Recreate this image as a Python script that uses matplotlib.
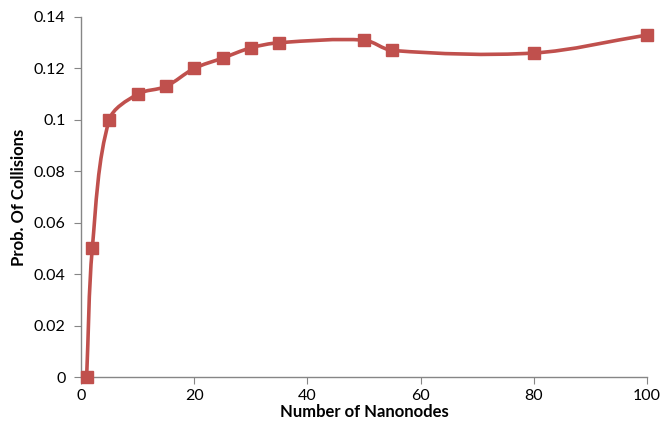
import numpy as np
import matplotlib
matplotlib.use("Agg")
import matplotlib.pyplot as plt
from matplotlib.path import Path
from matplotlib.patches import PathPatch
from matplotlib.transforms import IdentityTransform

nodes = [1, 2, 5, 10, 15, 20, 25, 30, 35, 50, 55, 80, 100]
prob = [0.0, 0.05, 0.10, 0.110, 0.113, 0.120, 0.124, 0.128, 0.130, 0.131, 0.127, 0.126, 0.133]
x_ticks = [0, 20, 40, 60, 80, 100]
y_ticks = [0, 0.02, 0.04, 0.06, 0.08, 0.1, 0.12, 0.14]
y_ticklabels = ["0", "0.02", "0.04", "0.06", "0.08", "0.1", "0.12", "0.14"]

color = "#C0504D"
plt.rcParams['font.family'] = ['Lato', 'DejaVu Sans']

fig = plt.figure(figsize=(6.61, 4.25), dpi=100)
ax = fig.add_axes([0.1225, 0.1129, 0.979 - 0.1225, 0.96 - 0.1129])
ax.set_xlim(0, 100)
ax.set_ylim(0, 0.14)

# Smoothed line (length-weighted Catmull-Rom Bezier) in display space
pts = ax.transData.transform(np.column_stack([nodes, prob]))
n = len(pts)
tangents = []
for i in range(n):
    p0 = pts[i - 1] if i > 0 else pts[i]
    p2 = pts[i + 1] if i + 1 < n else pts[i]
    d0 = np.linalg.norm(pts[i] - p0)
    d2 = np.linalg.norm(p2 - pts[i])
    tangents.append((p2 - p0) / max(d0 + d2, 1e-9))
verts = [tuple(pts[0])]
codes = [Path.MOVETO]
for i in range(n - 1):
    p1, p2 = pts[i], pts[i + 1]
    L = np.linalg.norm(p2 - p1)
    c1 = p1 + tangents[i] * L / 3.0
    c2 = p2 - tangents[i + 1] * L / 3.0
    verts += [tuple(c1), tuple(c2), tuple(p2)]
    codes += [Path.CURVE4] * 3
patch = PathPatch(Path(verts, codes), facecolor='none', edgecolor=color, lw=2.6,
                  transform=IdentityTransform(), zorder=2)
ax.add_patch(patch)

ax.plot(nodes, prob, linestyle='none', marker='s', markersize=8.5,
        color=color, zorder=3, clip_on=False)

ax.set_xticks(x_ticks)
ax.set_yticks(y_ticks)
ax.set_yticklabels(y_ticklabels)
for s in ['top', 'right']:
    ax.spines[s].set_visible(False)
for s in ['left', 'bottom']:
    ax.spines[s].set_color('#868686')
    ax.spines[s].set_linewidth(1.0)
ax.tick_params(axis='both', direction='out', length=5, color='#868686',
               labelsize=11.5, labelcolor='black')
ax.tick_params(axis='y', pad=6)
ax.set_xlabel('Number of Nanonodes', fontsize=12, fontweight='bold', labelpad=1)
ax.set_ylabel('Prob. Of Collisions', fontsize=12, fontweight='bold', labelpad=5)

fig.savefig('out.png', dpi=100)
